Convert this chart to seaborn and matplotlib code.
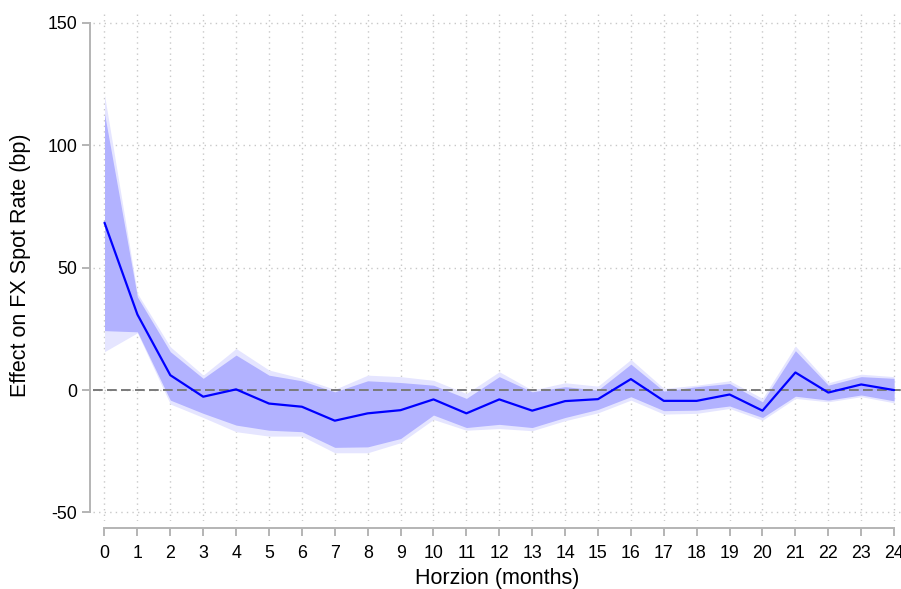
import numpy as np
import pandas as pd
import matplotlib
matplotlib.use('Agg')
import matplotlib.pyplot as plt
import seaborn as sns

# horizon (months) and impulse response estimates
horizon = list(range(25))
estimate = [68.4, 30.9, 6.1, -2.7, 0.3, -5.5, -6.8, -12.5, -9.5, -8.2, -3.8, -9.5, -3.8,
            -8.4, -4.5, -3.7, 4.5, -4.4, -4.4, -1.8, -8.4, 7.2, -1.0, 2.3, 0.0]
# inner band (darker)
inner_hi = [113, 38.1, 15.7, 4.8, 14.3, 6.1, 3.8, -0.7, 3.8, 3.1, 2.0, -3.4, 5.5,
            -0.7, 1.4, 0.0, 10.6, -0.4, 1.4, 2.7, -4.8, 16.1, 2.0, 5.5, 4.8]
inner_lo = [24.3, 23.8, -4.1, -9.5, -14.3, -16.4, -17.0, -23.4, -23.2, -19.8, -10.2, -15.3, -14.0,
            -15.3, -11.2, -7.9, -2.7, -8.4, -8.2, -6.5, -11.2, -2.5, -4.1, -2.0, -4.4]
# outer band (lighter)
outer_hi = [120.6, 39.5, 17.7, 6.1, 17.0, 8.2, 4.8, 0.3, 6.1, 5.5, 4.0, -1.4, 7.5,
            0.0, 3.0, 1.6, 12.5, 0.7, 2.0, 3.8, -3.4, 18.0, 3.0, 6.5, 5.5]
outer_lo = [15.7, 23.4, -5.7, -11.2, -17.0, -18.8, -18.8, -25.6, -25.6, -21.5, -12.0, -16.4, -15.7,
            -16.6, -12.5, -9.3, -4.1, -9.8, -9.5, -7.5, -12.3, -3.4, -4.8, -2.7, -5.2]

y_ticks = [-50, 0, 50, 100, 150]
y_ticklabels = ['-50', '0', '50', '100', '150']

df = pd.DataFrame({'h': horizon, 'est': estimate})

sns.set_style('white')
plt.rcParams['font.family'] = ['Liberation Sans', 'DejaVu Sans']

fig = plt.figure(figsize=(9.01, 5.89), dpi=100)
ax = fig.add_axes([0.1032, 0.1154, 0.8968, 0.8676])

spine_col = '#b4b4b4'
grid_col = '#c8c8c8'

ax.fill_between(horizon, outer_lo, outer_hi, color='#e5e5ff', linewidth=0, zorder=2)
ax.fill_between(horizon, inner_lo, inner_hi, color='#b2b2ff', linewidth=0, zorder=3)
ax.axhline(0, color='#7a7a7a', lw=1.4, dashes=(5, 2.2), zorder=4)
sns.lineplot(data=df, x='h', y='est', color='#0000ff', lw=1.6, ax=ax, zorder=5)

ax.set_xlim(-0.35, 24.21)
ax.set_ylim(-53.5, 155.3)
ax.set_xticks(horizon)
ax.set_xticklabels([str(h) for h in horizon])
ax.set_yticks(y_ticks)
ax.set_yticklabels(y_ticklabels)

ax.grid(True, color=grid_col, lw=1.0, linestyle=(0, (1, 3)), zorder=1)
ax.set_axisbelow(True)

for s in ['top', 'right']:
    ax.spines[s].set_visible(False)
ax.spines['left'].set_position(('outward', 2))
ax.spines['bottom'].set_position(('outward', 5))
ax.spines['left'].set_bounds(-50, 150)
ax.spines['bottom'].set_bounds(0, 24)
for s in ['left', 'bottom']:
    ax.spines[s].set_color(spine_col)
    ax.spines[s].set_linewidth(1.4)

ax.tick_params(axis='both', which='major', direction='out', length=5.8, width=1.4,
               color=spine_col, labelsize=12.8, labelcolor='black')
ax.tick_params(axis='x', pad=6.2, bottom=True)
ax.tick_params(axis='y', pad=3.6, left=True)

ax.set_xlabel('Horzion (months)', fontsize=15.5, labelpad=4.5, color='black')
ax.set_ylabel('Effect on FX Spot Rate (bp)', fontsize=15.5, labelpad=12, color='black')

fig.savefig('out.png', dpi=100)
